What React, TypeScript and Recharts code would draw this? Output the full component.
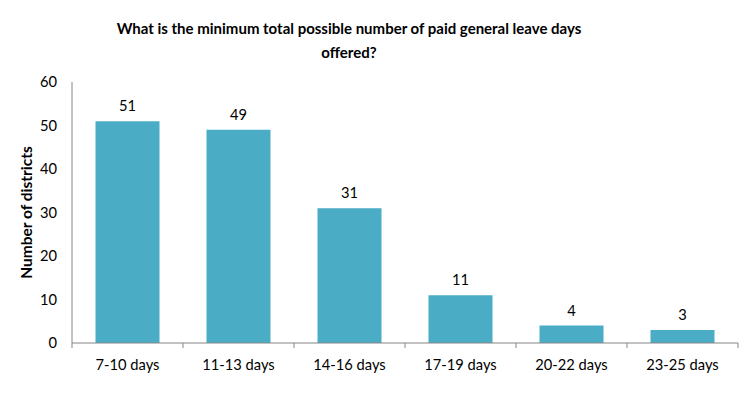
import React from "react";
import { BarChart, Bar, XAxis, YAxis, LabelList } from "recharts";

const categories = ["7-10 days", "11-13 days", "14-16 days", "17-19 days", "20-22 days", "23-25 days"];
const districts = [51, 49, 31, 11, 4, 3];
const yTicks = [0, 10, 20, 30, 40, 50, 60];

const data = categories.map((name, i) => ({ name, value: districts[i] }));

const W = 750;
const H = 397;
const LEFT = 72;
const RIGHT = 12;
const BAND = (W - LEFT - RIGHT) / categories.length;
const FONT = "Lato, 'Open Sans', sans-serif";
const AXIS = "#868686";

const XTick = (props: any) => {
  const { x, y, payload, index } = props;
  return (
    <g>
      <line x1={x - BAND / 2} y1={y} x2={x - BAND / 2} y2={y + 5} stroke={AXIS} strokeWidth={1} />
      {index === categories.length - 1 && (
        <line x1={x + BAND / 2} y1={y} x2={x + BAND / 2} y2={y + 5} stroke={AXIS} strokeWidth={1} />
      )}
      <text x={x} y={y + 27} textAnchor="middle" fill="#000" fontSize={14.7} fontFamily={FONT}>
        {payload.value}
      </text>
    </g>
  );
};

export default function App() {
  return (
    <div style={{ position: "absolute", left: 0, top: 0, width: W, height: H, background: "#fff" }}>
      <svg width={W} height={60} style={{ position: "absolute", left: 0, top: 0 }}>
        <text x={349} y={34} textAnchor="middle" fontFamily={FONT} fontWeight="bold" fontSize={15} fill="#000">
          What is the minimum total possible number of paid general leave days
        </text>
        <text x={349} y={58} textAnchor="middle" fontFamily={FONT} fontWeight="bold" fontSize={15} fill="#000">
          offered?
        </text>
      </svg>
      <BarChart
        width={W}
        height={H}
        data={data}
        margin={{ top: 82, right: RIGHT, left: 0, bottom: 24 }}
        barCategoryGap={23.5}
        style={{ position: "absolute", left: 0, top: 0 }}
      >
        <XAxis
          dataKey="name"
          height={30}
          tickLine={false}
          tickSize={0}
          tickMargin={0}
          axisLine={{ stroke: AXIS }}
          tick={<XTick />}
          interval={0}
        />
        <YAxis
          width={LEFT}
          domain={[0, 60]}
          ticks={yTicks}
          tickLine={false}
          tickSize={0}
          tickMargin={15}
          axisLine={{ stroke: AXIS }}
          tick={{ fill: "#000", fontSize: 14.7, fontFamily: FONT }}
          label={{
            value: "Number of districts",
            angle: -90,
            position: "insideLeft",
            dx: 21,
            style: { textAnchor: "middle", fontWeight: "bold", fontSize: 15.5, fontFamily: FONT, fill: "#000" },
          }}
        />
        <Bar dataKey="value" fill="#4BACC6" isAnimationActive={false}>
          <LabelList dataKey="value" position="top" offset={10} fill="#000" fontSize={14.7} fontFamily={FONT} />
        </Bar>
      </BarChart>
    </div>
  );
}
